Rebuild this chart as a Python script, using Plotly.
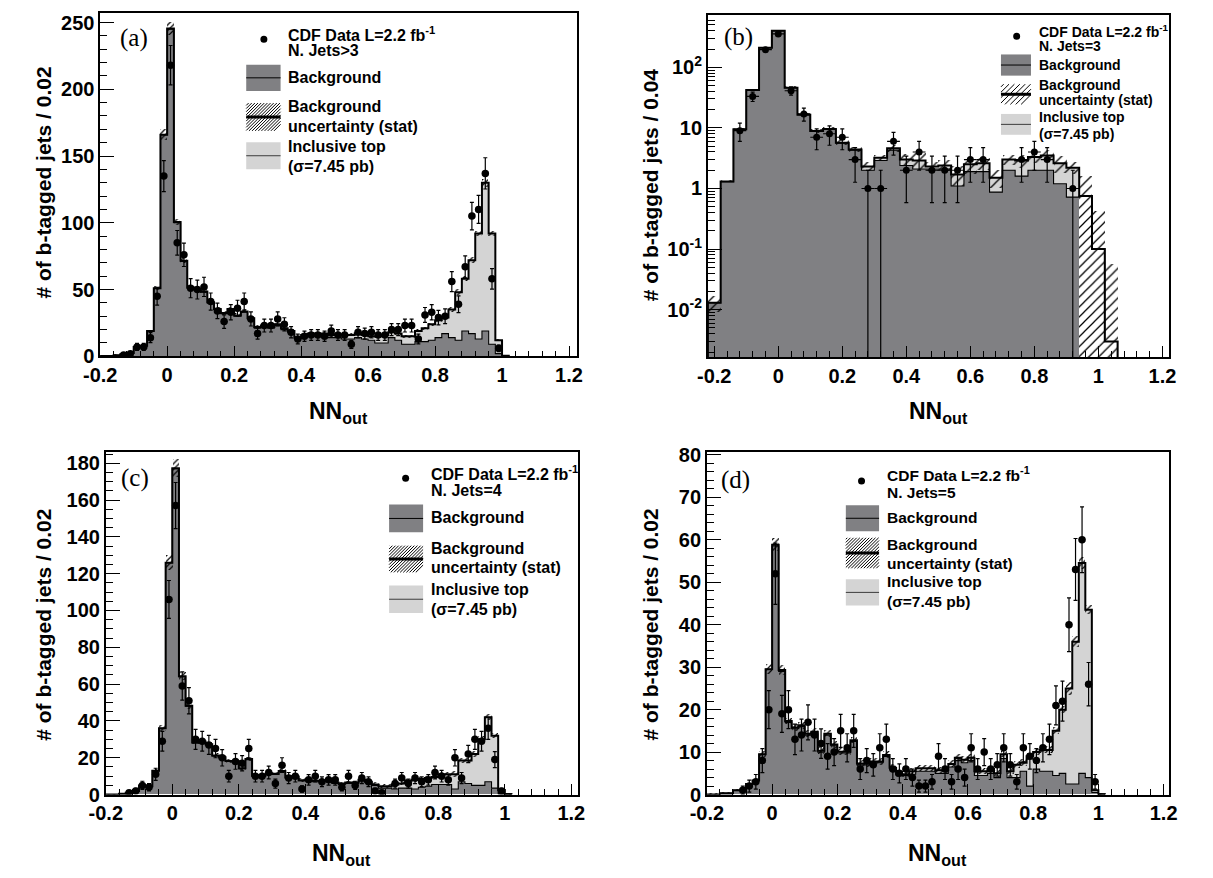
import math
import plotly.graph_objects as go

# ---------------- data ----------------
# Panels (a), (c), (d): bins of width 0.02, first bin starts at NN = -0.20 (61 bins)
FINE_START = -0.20
FINE_W = 0.02
# Panel (b): bins of width 0.04, first bin starts at NN = -0.22 (32 bins)
COARSE_START = -0.22
COARSE_W = 0.04

x_tick_vals = [-0.2, 0, 0.2, 0.4, 0.6, 0.8, 1.0, 1.2]
x_tick_text = ["-0.2", "0", "0.2", "0.4", "0.6", "0.8", "1", "1.2"]
y_tick_vals_a = [0, 50, 100, 150, 200, 250]
y_tick_vals_b = [0.01, 0.1, 1, 10, 100]
y_tick_text_b = ["10<sup>-2</sup>", "10<sup>-1</sup>", "1", "10", "10<sup>2</sup>"]
y_tick_vals_c = [0, 20, 40, 60, 80, 100, 120, 140, 160, 180]
y_tick_vals_d = [0, 10, 20, 30, 40, 50, 60, 70, 80]

# (a) N. Jets>3
bg_a = [0.2, 0.3, 0.8, 1.5, 2.5, 7, 8, 19, 51, 166,
        245, 100, 71, 51, 50, 48, 40, 35, 32, 35,
        30, 33, 28, 21, 22, 21, 23, 20, 18, 13,
        15, 15, 15, 15, 14, 14, 13, 13, 14, 13,
        12, 10, 10, 14, 12, 9, 9, 11, 11, 12,
        14, 17, 14, 12, 19, 17, 13, 19, 9, 2,
        0.3]
top_a = [0] * 10 + [0.5] * 13 + [1] * 8 + [2] * 5 + [3] * 5 + \
        [5, 6, 4, 5, 6, 6, 8, 10, 12, 13, 12, 21, 36, 39, 55, 79, 111, 83, 10, 0.2]
unc_a = [0.2] * 7 + [0.8, 1.5, 4, 5, 2.5, 2] + [1.5] * 10 + [1.2] * 29 + [2] * 5 + [3, 2, 0.8, 0.1]
data_a = [0, 0, 0, 1, 2, 7, 7, 14, 45, 135,
          218, 85, 76, 51, 50, 52, 41, 34, 26, 33,
          36, 41, 28, 17, 23, 23, 28, 24, 18, 13,
          15, 16, 16, 15, 19, 16, 16, 9, 18, 17,
          18, 16, 16, 20, 20, 23, 23, 13, 31, 33,
          29, 30, 56, 39, 67, 105, 110, 137, 58, 6,
          0]

# (b) N. Jets=3 (log scale, 0.04 bins)
bg_b = [0.013, 1.3, 9.5, 42, 210, 400, 46, 16.5, 8.8, 9.5,
        5.6, 4.3, 2.0, 2.9, 4.3, 2.4, 2.1, 2.1, 2.1, 1.1,
        1.9, 1.9, 0.87, 2.0, 1.6, 2.0, 2.0, 1.2, 0.72, 0.75,
        0.1, 0.003]
top_b = [0, 0, 0, 0, 0, 0, 0, 0, 0.1, 0.1,
         0.1, 0.1, 0.3, 0.3, 0.3, 0.6, 0.8, 0.2, 0.3, 0.6,
         0.6, 0.7, 0.63, 1.0, 1.3, 1.3, 1.5, 1.4, 1.48, 0,
         0, 0]
unc_b = [0.004, 0.05, 0.3, 1.5, 8, 12, 2, 1, 0.6, 0.7,
         0.5, 0.4, 0.4, 0.4, 0.6, 0.7, 0.9, 0.4, 0.5, 0.6,
         0.8, 0.6, 0.5, 0.6, 0.7, 0.7, 0.8, 0.8, 0.5, 0.85,
         0.33, 0.054]
data_b = [0, 0, 9, 33, 195, 355, 41, 17, 7, 8,
          7, 3, 1, 1, 6, 2, 4, 2, 2, 2,
          3, 3, 0, 0, 3, 4, 3, 0, 1, 0,
          0, 0]
bg_fill_end_b = 0.94   # dark background fill stops here in panel (b)

# (c) N. Jets=4
bg_c = [0, 0, 0.5, 1, 2, 5, 4.5, 13, 36, 126,
        177, 64, 48, 28, 28.5, 27, 21, 20, 18, 18,
        14, 19, 10, 10, 11, 11, 12.5, 9, 9.5, 7.5,
        7.5, 7, 7, 7, 6, 5.5, 6, 6, 7, 6.5,
        5, 3.5, 3.5, 3, 3.5, 3.5, 3, 4, 4.5, 5.5,
        5.5, 5.5, 3, 7, 6, 5, 5, 7, 3.5, 0.5,
        0.2]
top_c = [0] * 10 + [0.3] * 21 + [0.5] * 7 + \
        [1, 0.5, 0.5, 1, 1, 2.5, 2.5, 4, 5, 4.5, 4.5, 4, 5.5, 5.5, 8, 11.5, 12.5, 17, 25, 35, 28.5, 2, 0.1]
unc_c = [0.2] * 7 + [0.8, 1.5, 4, 5, 2, 2] + [1] * 39 + [1.5] * 7 + [0.5, 0.1]
data_c = [0, 0, 0, 1, 2, 5, 4, 11, 29, 106,
          157, 59, 51, 30, 29, 27, 25, 20, 10, 18,
          17, 25, 10, 10, 12, 6, 16, 9, 10, 3,
          8, 10, 7, 8, 8, 4, 10, 5, 9, 7,
          2, 1, 0, 6, 9, 6, 9, 7, 8, 12,
          10, 8, 20, 9, 22, 30, 29, 36, 19, 2,
          0]

# (d) N. Jets=5
bg_d = [0, 0, 0.3, 0.3, 1, 1, 2.5, 3.3, 9.5, 29.5,
        58.5, 29, 17, 15.5, 16, 14, 14.5, 10, 14, 11.5,
        9.8, 9.8, 12.5, 7, 7, 7.5, 7.5, 9, 6, 4.5,
        4.5, 4.8, 5.5, 5.5, 5.5, 5, 5, 6.5, 8, 7.5,
        8, 4.5, 4.5, 5, 4, 8.5, 4, 4, 5.5, 2,
        6, 5.5, 5.5, 4.5, 5, 2.5, 2.5, 5, 4, 0.5,
        0.1]
top_d = [0] * 10 + [0.3] * 21 + [0.7] * 10 + [1] * 5 + \
        [1.5, 3, 2, 7, 4, 5, 5, 10.5, 15, 22.5, 33.5, 49.5, 39.5, 0.5, 0]
unc_d = [0.2] * 8 + [0.6, 1.2, 1.5, 1.2] + [0.8] * 43 + [1.5, 1.2, 1.5, 1, 0.3, 0.05]
data_d = [0, 0, 0, 0, 0, 1, 2, 3, 8, 20,
          52, 19, 20, 13, 14, 17, 14, 12, 9, 10,
          15, 11, 15, 6, 8, 7, 11, 13, 6, 5,
          6, 4, 2, 2, 3, 9, 6, 3, 6, 4,
          11, 6, 10, 6, 7, 11, 7, 3, 11, 9,
          8, 11, 13, 21, 22, 40, 53, 60, 26, 3,
          0]

# ---------------- styling ----------------
W, H = 1213, 878
DARK = "rgb(128,128,131)"
LIGHT = "rgb(212,212,212)"
SANS = "Liberation Sans"
SERIF = "Liberation Serif"
TRANSPARENT = "rgba(0,0,0,0)"

fig = go.Figure()


def ax_ids(n):
    return ("x" if n == 1 else f"x{n}"), ("y" if n == 1 else f"y{n}")


def add_panel(n, start, w, bg, top, unc, data, log=False, hatch_size=4, solidity=0.3, fill_end=None):
    xa, ya = ax_ids(n)
    m = len(bg)
    centers = [start + w * (i + 0.5) for i in range(m)]
    edges = [start + w * i for i in range(m + 1)]
    total = [b + t for b, t in zip(bg, top)]
    floor = 1e-4 if log else 0.0
    common = dict(xaxis=xa, yaxis=ya, hoverinfo="skip", showlegend=False)

    fig.add_trace(go.Bar(x=centers, y=total, width=w,
                         marker=dict(color=LIGHT, line=dict(width=0)), **common))
    fig.add_trace(go.Bar(x=centers, y=bg, width=w,
                         marker=dict(color=DARK, line=dict(width=0)), **common))
    lo = [max(t - u, floor) for t, u in zip(total, unc)]
    hi = [t + u for t, u in zip(total, unc)]
    if fill_end is None:
        pbg = TRANSPARENT
    else:
        pbg = ["white" if c > fill_end else TRANSPARENT for c in centers]
    fig.add_trace(go.Bar(x=centers, y=[h - l for h, l in zip(hi, lo)], base=lo, width=w,
                         marker=dict(color="black", line=dict(width=0),
                                     pattern=dict(shape="/", fgcolor="black", bgcolor=pbg,
                                                  size=hatch_size, solidity=solidity,
                                                  fillmode="replace")),
                         **common))

    def step(vals):
        xs = [edges[0]] + edges[:-1] + [edges[-1], edges[-1]]
        ys = [floor] + list(vals) + [vals[-1], floor]
        return xs, ys

    sx, sy = step(bg)
    fig.add_trace(go.Scatter(x=sx, y=sy, mode="lines", line=dict(color="black", width=1.1, shape="hv"),
                             **common))
    sx, sy = step(total)
    fig.add_trace(go.Scatter(x=sx, y=sy, mode="lines", line=dict(color="black", width=2, shape="hv"),
                             **common))

    px = [c for c, d in zip(centers, data) if d > 0]
    py = [d for d in data if d > 0]
    eu = [math.sqrt(d) for d in py]
    ed = [min(math.sqrt(d), d - 1.2e-3) if log else math.sqrt(d) for d in py]
    fig.add_trace(go.Scatter(x=px, y=py, mode="markers",
                             marker=dict(color="black", size=7.5 if not log else 7),
                             error_y=dict(type="data", array=eu, arrayminus=ed, symmetric=False,
                                          color="black", thickness=1.2, width=2),
                             error_x=dict(type="constant", value=w / 2, color="black",
                                          thickness=1.2, width=0),
                             **common))


add_panel(1, FINE_START, FINE_W, bg_a, top_a, unc_a, data_a)
add_panel(2, COARSE_START, COARSE_W, bg_b, top_b, unc_b, data_b, log=True, hatch_size=7,
          solidity=0.18, fill_end=bg_fill_end_b)
add_panel(3, FINE_START, FINE_W, bg_c, top_c, unc_c, data_c)
add_panel(4, FINE_START, FINE_W, bg_d, top_d, unc_d, data_d)

# ---------------- axes ----------------
tickfont = dict(family=SANS, size=20, color="black")
x_minor = [round(-0.2 + 0.04 * i, 4) for i in range(37)]


def bold(labels):
    return [f"<b>{t}</b>" for t in labels]


def xaxis(domain, anchor, rng):
    return dict(domain=domain, anchor=anchor, range=rng, showgrid=False, zeroline=False,
                showline=True, linecolor="black", linewidth=1.6, mirror=True,
                ticks="inside", ticklen=11, tickwidth=1.2, tickcolor="black",
                tickmode="array", tickvals=x_tick_vals, ticktext=bold(x_tick_text),
                tickfont=tickfont,
                minor=dict(ticks="inside", ticklen=6, tickwidth=1.2, tickcolor="black",
                           tickmode="array", tickvals=x_minor, showgrid=False))


def yaxis_lin(domain, anchor, rng, vals, minor_dtick):
    return dict(domain=domain, anchor=anchor, range=rng, showgrid=False, zeroline=False,
                showline=True, linecolor="black", linewidth=1.6, mirror=True,
                ticks="inside", ticklen=14, tickwidth=1.2, tickcolor="black",
                tickmode="array", tickvals=vals, ticktext=bold([str(v) for v in vals]),
                tickfont=tickfont,
                minor=dict(ticks="inside", ticklen=7, tickwidth=1.2, tickcolor="black",
                           tickmode="linear", tick0=0, dtick=minor_dtick, showgrid=False))


log_minor = [m * 10.0 ** e for e in range(-3, 3) for m in range(2, 10)]
fig.update_layout(
    width=W, height=H, margin=dict(l=0, r=0, t=0, b=0),
    paper_bgcolor="white", plot_bgcolor="white",
    barmode="overlay", bargap=0, showlegend=False,
    xaxis=xaxis([0.0701, 0.4721], "y", [-0.2, 1.225]),
    yaxis=yaxis_lin([0.5945, 0.994], "x", [0, 257], y_tick_vals_a, 10),
    xaxis2=xaxis([0.5820, 0.9709], "y2", [-0.22, 1.222]),
    yaxis2=dict(domain=[0.5937, 0.9917], anchor="x2", type="log", range=[-2.78, 2.86],
                showgrid=False, zeroline=False, showline=True, linecolor="black",
                linewidth=1.6, mirror=True, ticks="inside", ticklen=14, tickwidth=1.2,
                tickcolor="black", tickmode="array",
                tickvals=y_tick_vals_b, ticktext=bold(y_tick_text_b),
                tickfont=tickfont,
                minor=dict(ticks="inside", ticklen=7, tickwidth=1.2, tickcolor="black",
                           tickmode="array", tickvals=log_minor, showgrid=False)),
    xaxis3=xaxis([0.0748, 0.4726], "y3", [-0.2, 1.22]),
    yaxis3=yaxis_lin([0.0843, 0.4829], "x3", [0, 186], y_tick_vals_c, 5),
    xaxis4=xaxis([0.5812, 0.9701], "y4", [-0.2, 1.215]),
    yaxis4=yaxis_lin([0.0843, 0.4829], "x4", [0, 80.6], y_tick_vals_d, 2),
)

# ---------------- titles ----------------
ytitles = [(27, 178, "# of b-tagged jets / 0.02"), (647, 181, "# of b-tagged jets / 0.04"),
           (27, 630, "# of b-tagged jets / 0.02"), (647, 630, "# of b-tagged jets / 0.02")]
for xp, yp, txt in ytitles:
    fig.add_annotation(xref="paper", yref="paper", x=xp / W, y=1 - yp / H, text=f"<b>{txt}</b>",
                       textangle=-90, showarrow=False, xanchor="center", yanchor="middle",
                       font=dict(family=SANS, size=21, color="black"))
xtitles = [(329, 413), (942, 413), (332, 865), (941, 865)]
for xp, yp in xtitles:
    fig.add_annotation(xref="paper", yref="paper", x=xp / W, y=1 - yp / H,
                       text="<b>NN<sub>out</sub></b>", showarrow=False,
                       xanchor="center", yanchor="middle",
                       font=dict(family=SANS, size=23, color="black"))

# ---------------- panel labels and legends ----------------
panel_labels = {1: ("(a)", 0.070, 0.071), 2: ("(b)", 0.066, 0.063),
                3: ("(c)", 0.061, 0.076), 4: ("(d)", 0.063, 0.082)}
jets_text = {1: "N. Jets&gt;3", 2: "N. Jets=3", 3: "N. Jets=4", 4: "N. Jets=5"}
dom_px = {1: (487.7, 350.7), 2: (471.7, 349.4), 3: (482.6, 350.0), 4: (471.7, 350.0)}
LEG = {
    1: dict(box=(0.306, 0.378), dot=(0.343, 0.076), tx=0.390, t1=0.060, t2=0.110,
            bgbox=(0.150, 0.227), bgt=0.188, hbox=(0.262, 0.343), ht1=0.271, ht2=0.329,
            lbox=(0.376, 0.455), lt1=0.388, lt2=0.446, hs=3.2, fs=16),
    2: dict(box=(0.635, 0.700), dot=(0.669, 0.062), tx=0.712, t1=0.046, t2=0.091,
            bgbox=(0.115, 0.177), bgt=0.145, hbox=(0.202, 0.261), ht1=0.204, ht2=0.249,
            lbox=(0.289, 0.350), lt1=0.299, lt2=0.348, hs=5.5, fs=14),
    3: dict(box=(0.600, 0.672), dot=(0.635, 0.076), tx=0.685, t1=0.060, t2=0.113,
            bgbox=(0.153, 0.234), bgt=0.191, hbox=(0.273, 0.351), ht1=0.280, ht2=0.337,
            lbox=(0.389, 0.470), lt1=0.401, lt2=0.458, hs=3.2, fs=16),
    4: dict(box=(0.301, 0.373), dot=(0.335, 0.084), tx=0.385, t1=0.065, t2=0.117,
            bgbox=(0.155, 0.231), bgt=0.190, hbox=(0.250, 0.339), ht1=0.270, ht2=0.325,
            lbox=(0.371, 0.448), lt1=0.379, lt2=0.436, hs=3.2, fs=15.5),
}

for n in range(1, 5):
    xa, ya = ax_ids(n)
    xr, yr = f"{xa} domain", f"{ya} domain"
    lab, lx, ly = panel_labels[n]
    fig.add_annotation(xref=xr, yref=yr, x=lx, y=1 - ly, text=lab, showarrow=False,
                       xanchor="center", yanchor="middle",
                       font=dict(family=SERIF, size=25, color="black"))
    L = LEG[n]
    dw, dh = dom_px[n]
    bx0, bx1 = L["box"]

    def txt(y, s):
        fig.add_annotation(xref=xr, yref=yr, x=L["tx"], y=1 - y, text=f"<b>{s}</b>",
                           showarrow=False, xanchor="left", yanchor="middle",
                           font=dict(family=SANS, size=L["fs"], color="black"))

    # data marker
    fig.add_shape(type="circle", xref=xr, yref=yr, xsizemode="pixel", ysizemode="pixel",
                  xanchor=L["dot"][0], yanchor=1 - L["dot"][1], x0=-3.5, x1=3.5, y0=-3.5, y1=3.5,
                  fillcolor="black", line=dict(width=0))
    txt(L["t1"], "CDF Data L=2.2 fb<sup>-1</sup>")
    txt(L["t2"], jets_text[n])
    # background
    y0, y1 = L["bgbox"]
    fig.add_shape(type="rect", xref=xr, yref=yr, x0=bx0, x1=bx1, y0=1 - y1, y1=1 - y0,
                  fillcolor=DARK, line=dict(width=0))
    ym = 1 - (y0 + y1) / 2
    fig.add_shape(type="line", xref=xr, yref=yr, x0=bx0, x1=bx1, y0=ym, y1=ym,
                  line=dict(color="black", width=1))
    txt(L["bgt"], "Background")
    # hatched uncertainty
    y0, y1 = L["hbox"]
    bw, bh = (bx1 - bx0) * dw, (y1 - y0) * dh
    segs = []
    c = -bh
    while c < bw:
        xmin, xmax = max(0.0, -c), min(bw, bh - c)
        if xmin < xmax:
            ax0, ay0 = bx0 + xmin / dw, (1 - y1) + (xmin + c) / dh
            ax1, ay1 = bx0 + xmax / dw, (1 - y1) + (xmax + c) / dh
            segs.append(f"M{ax0:.5f},{ay0:.5f}L{ax1:.5f},{ay1:.5f}")
        c += L["hs"]
    fig.add_shape(type="path", xref=xr, yref=yr, path="".join(segs),
                  line=dict(color="black", width=1))
    ym = 1 - (y0 + y1) / 2
    fig.add_shape(type="line", xref=xr, yref=yr, x0=bx0, x1=bx1, y0=ym, y1=ym,
                  line=dict(color="black", width=3))
    txt(L["ht1"], "Background")
    txt(L["ht2"], "uncertainty (stat)")
    # inclusive top
    y0, y1 = L["lbox"]
    fig.add_shape(type="rect", xref=xr, yref=yr, x0=bx0, x1=bx1, y0=1 - y1, y1=1 - y0,
                  fillcolor=LIGHT, line=dict(width=0))
    ym = 1 - (y0 + y1) / 2
    fig.add_shape(type="line", xref=xr, yref=yr, x0=bx0, x1=bx1, y0=ym, y1=ym,
                  line=dict(color="rgb(60,60,60)", width=1))
    txt(L["lt1"], "Inclusive top")
    txt(L["lt2"], "(σ=7.45 pb)")

fig.write_html("out.html", config={"displayModeBar": False},
               post_script="document.body.style.margin='0';document.body.style.overflow='hidden';")
